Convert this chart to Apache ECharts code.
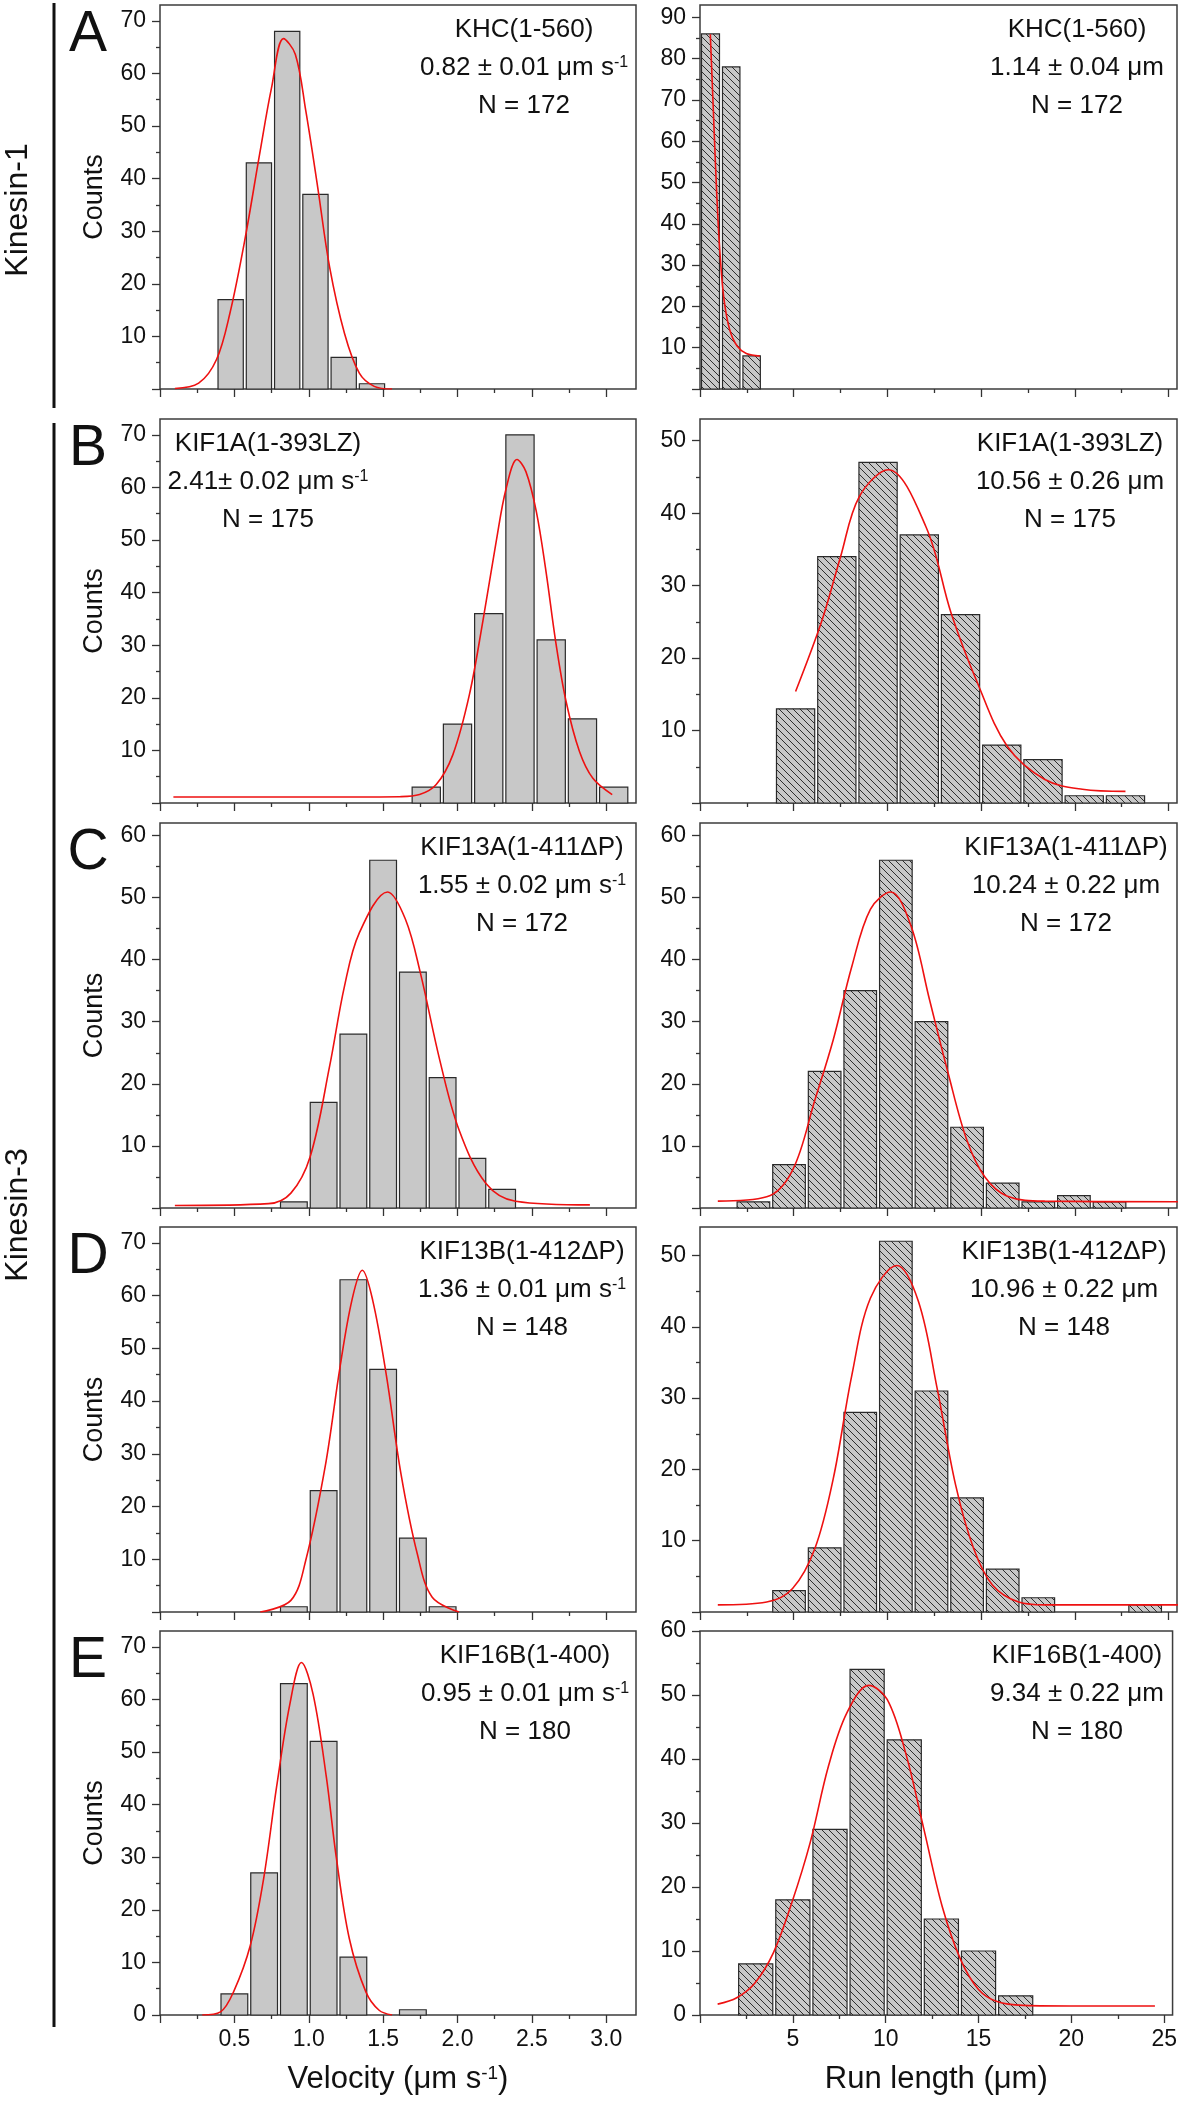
<!DOCTYPE html>
<html><head><meta charset="utf-8">
<script src="https://cdn.jsdelivr.net/npm/echarts@6/dist/echarts.min.js"></script>
<style>html,body{margin:0;padding:0;background:#fff}#c{width:1180px;height:2102px}</style>
</head><body><div id="c"></div>
<script>
// ================= DATA =================
// Velocity histograms: bin edges (µm/s) and counts, plus Gaussian-fit curve points
const velEdgesA = [0.38, 0.57, 0.76, 0.95, 1.14, 1.33, 1.52];
const velCountsA = [17, 43, 68, 37, 6, 1];
const velFitA = [[0.10,0.1],[0.26,1.1],[0.38,5.6],[0.47,14.4],[0.57,28.3],[0.67,44.7],[0.75,57.3],[0.83,66.6],[0.91,63.6],[0.98,52.9],[1.06,38.4],[1.14,23.2],[1.24,10.6],[1.34,3.0],[1.44,0.5],[1.56,0.0]];

const velEdgesB = [1.685, 1.895, 2.105, 2.315, 2.525, 2.735, 2.945, 3.155];
const velCountsB = [3, 15, 36, 70, 31, 16, 3];
const velFitB = [[0.09,1.15],[0.8,1.15],[1.3,1.15],[1.61,1.2],[1.745,1.6],[1.857,3.5],[1.969,9.2],[2.08,20.6],[2.17,34.5],[2.26,49.7],[2.327,59.8],[2.40,65.3],[2.46,63.0],[2.53,55.4],[2.595,44.0],[2.66,30.7],[2.73,19.3],[2.82,9.8],[2.91,4.7],[3.04,1.6]];

const velEdgesC = [0.8, 1.0, 1.2, 1.4, 1.6, 1.8, 2.0, 2.2, 2.4];
const velCountsC = [1, 17, 28, 56, 38, 21, 8, 3];
const velFitC = [[0.10,0.4],[0.73,0.7],[0.88,2.4],[1.01,8.3],[1.14,22.8],[1.24,35.7],[1.34,44.3],[1.53,50.9],[1.65,46.5],[1.75,37.9],[1.88,23.9],[2.01,12.6],[2.19,4.0],[2.39,1.1],[2.89,0.5]];

const velEdgesD = [0.8, 1.0, 1.2, 1.4, 1.6, 1.8, 2.0];
const velCountsD = [1, 23, 63, 46, 14, 1];
const velFitD = [[0.674,0],[0.88,2.2],[0.98,9.8],[1.11,27.5],[1.21,46.4],[1.29,59.1],[1.36,64.8],[1.43,59.1],[1.52,45.2],[1.62,26.2],[1.73,11.0],[1.83,2.8],[2.01,0]];

const velEdgesE = [0.4, 0.6, 0.8, 1.0, 1.2, 1.4, 1.6, 1.8];
const velCountsE = [4, 27, 63, 52, 11, 0, 1];
const velFitE = [[0.284,0],[0.407,0.6],[0.496,4.5],[0.607,13.2],[0.696,25.8],[0.784,43.4],[0.873,59.1],[0.951,67.0],[1.029,61.0],[1.118,45.3],[1.184,30.2],[1.273,14.5],[1.384,4.4],[1.473,0.9],[1.56,0]];

// Run-length histograms: bin edges (µm) and counts, plus fit curve points
const runEdgesA = [0, 1.12, 2.21, 3.3];
const runCountsA = [86, 78, 8];
const runFitA = [[0.55,85.9],[0.69,70],[0.83,53.9],[0.95,41.8],[1.09,31.3],[1.28,21.7],[1.58,14.4],[1.98,10.4],[2.47,8.6],[3.2,8.0]];

const runEdgesB = [4.0, 6.2, 8.4, 10.6, 12.8, 15.0, 17.2, 19.4, 21.6, 23.8];
const runCountsB = [13, 34, 47, 37, 26, 8, 6, 1, 1];
const runFitB = [[5.1,15.4],[6.52,25.3],[7.5,34.0],[8.5,42.3],[10.04,46.0],[12.06,38.1],[13.4,26.2],[14.8,16.6],[16.4,7.8],[18.4,3.25],[20.4,1.9],[22.7,1.6]];

const runEdgesC = [1.9, 3.8, 5.7, 7.6, 9.5, 11.4, 13.3, 15.2, 17.1, 19.0, 20.9, 22.8];
const runCountsC = [1, 7, 22, 35, 56, 30, 13, 4, 1, 2, 1];
const runFitC = [[0.95,1.1],[3.56,1.8],[4.94,6.1],[6.13,17.4],[7.11,27.1],[8.1,38.9],[9.09,48.1],[10.18,50.9],[11.26,45.4],[12.25,33.5],[13.24,21.7],[14.23,11.0],[15.2,5.0],[16.4,1.9],[18.4,1.1],[25.5,1.0]];

const runEdgesD = [1.9, 3.8, 5.7, 7.6, 9.5, 11.4, 13.3, 15.2, 17.1, 19.0, 20.9, 22.8, 24.7];
const runCountsD = [0, 3, 9, 28, 52, 31, 16, 6, 2, 0, 0, 1];
const runFitD = [[0.95,1.0],[3.56,1.4],[4.94,3.3],[6.13,8.9],[7.11,18.7],[8.1,33.2],[9.09,44.0],[10.5,48.6],[11.66,43.5],[12.65,31.4],[13.64,17.8],[14.6,8.9],[15.6,3.8],[17.0,1.4],[18.4,1.0],[25.5,1.0]];

const runEdgesE = [2, 4, 6, 8, 10, 12, 14, 16, 18];
const runCountsE = [8, 18, 29, 54, 43, 15, 10, 3];
const runFitE = [[0.95,1.7],[1.98,2.7],[2.96,5.0],[3.95,9.7],[4.94,17.5],[5.93,26.9],[6.92,38.9],[7.91,47.2],[9.09,51.5],[10.08,49.3],[11.07,41.0],[12.06,29.0],[13.04,17.0],[14.03,8.7],[15.0,4.0],[16.0,2.1],[17.4,1.5],[20.4,1.4],[24.5,1.4]];

// Axis ranges and tick values
const velRange = [0, 3.2];
const runRange = [0, 25.45];
const velMajorTicks = [0, 0.5, 1.0, 1.5, 2.0, 2.5, 3.0];
const velMinorTicks = [0.25, 0.75, 1.25, 1.75, 2.25, 2.75];
const velTickLabels = [0.5, 1.0, 1.5, 2.0, 2.5, 3.0];
const runMajorTicks = [0, 5, 10, 15, 20, 25];
const runMinorTicks = [2.5, 7.5, 12.5, 17.5, 22.5];
const runTickLabels = [5, 10, 15, 20, 25];
const velYMax = [73, 73, 62, 73, 73];
const runYMax = [93, 53, 62, 54, 60];

// Annotation texts
const velTexts = [
  ['KHC(1-560)', '0.82 ± 0.01 μm s', 'N = 172'],
  ['KIF1A(1-393LZ)', '2.41± 0.02 μm s', 'N = 175'],
  ['KIF13A(1-411ΔP)', '1.55 ± 0.02 μm s', 'N = 172'],
  ['KIF13B(1-412ΔP)', '1.36 ± 0.01 μm s', 'N = 148'],
  ['KIF16B(1-400)', '0.95 ± 0.01 μm s', 'N = 180']
];
const runTexts = [
  ['KHC(1-560)', '1.14 ± 0.04 μm', 'N = 172'],
  ['KIF1A(1-393LZ)', '10.56 ± 0.26 μm', 'N = 175'],
  ['KIF13A(1-411ΔP)', '10.24 ± 0.22 μm', 'N = 172'],
  ['KIF13B(1-412ΔP)', '10.96 ± 0.22 μm', 'N = 148'],
  ['KIF16B(1-400)', '9.34 ± 0.22 μm', 'N = 180']
];
const panelLetters = ['A', 'B', 'C', 'D', 'E'];

// ================= LAYOUT / STYLE =================
const F = "'Liberation Sans', Arial, Helvetica, sans-serif";
const rowTop = [5, 419, 823, 1227, 1631];
const rowH = [384, 384, 385, 385, 384];
const colLeft = [160, 700];
const colW = [476, 477];
const velTextX = [524, 268, 522, 522, 525];
const runTextX = [1077, 1070, 1066, 1064, 1077];
const textDY = [25, 63, 101];

function hatchPattern() {
  const c = document.createElement('canvas');
  c.width = 7; c.height = 7;
  const g = c.getContext('2d');
  g.fillStyle = '#c8c8c8'; g.fillRect(0, 0, 7, 7);
  g.strokeStyle = '#2e2e2e'; g.lineWidth = 1;
  for (const k of [-7, 0, 7]) { g.beginPath(); g.moveTo(k - 1, -1); g.lineTo(k + 8, 8); g.stroke(); }
  return { image: c, repeat: 'repeat' };
}
const HATCH = hatchPattern();

function range(a, b, s) { const r = []; for (let v = a; v <= b + 1e-9; v += s) r.push(v); return r; }

const grids = [], xAxes = [], yAxes = [], series = [], graphics = [];

function addPanel(row, col, edges, counts, fit, yMax) {
  const gi = grids.length;
  const isBottom = row === 4;
  const isVel = col === 0;
  grids.push({ left: colLeft[col], top: rowTop[row], width: colW[col], height: rowH[row],
    show: true, borderColor: '#3c3c3c', borderWidth: 1.5, backgroundColor: '#fff', containLabel: false });
  const tickLine = { color: '#333', width: 1.3 };
  const xr = isVel ? velRange : runRange;
  const xi = xAxes.length;
  xAxes.push({ gridIndex: gi, type: 'value', min: xr[0], max: xr[1], position: 'bottom',
    axisLine: { show: false }, splitLine: { show: false },
    axisTick: { show: true, length: 8, lineStyle: tickLine, customValues: isVel ? velMajorTicks : runMajorTicks },
    axisLabel: { show: isBottom, customValues: isVel ? velTickLabels : runTickLabels, margin: 13,
      fontSize: 23, fontFamily: F, color: '#111', formatter: v => isVel ? Number(v).toFixed(1) : String(v) },
    name: isBottom ? (isVel ? 'Velocity (μm s{s|-1})' : 'Run length (μm)') : '',
    nameLocation: 'middle', nameGap: 49,
    nameTextStyle: { fontSize: 31, fontFamily: F, color: '#111',
      rich: { s: { fontSize: 19, fontFamily: F, color: '#111', verticalAlign: 'top' } } }
  });
  xAxes.push({ gridIndex: gi, type: 'value', min: xr[0], max: xr[1], position: 'bottom',
    axisLine: { show: false }, splitLine: { show: false }, axisLabel: { show: false },
    axisTick: { show: true, length: 4, lineStyle: tickLine, customValues: isVel ? velMinorTicks : runMinorTicks } });
  const topMajor = Math.floor(yMax / 10) * 10;
  const majors = range(0, topMajor, 10);
  const minors = range(5, yMax - 1, 10);
  const yi = yAxes.length;
  yAxes.push({ gridIndex: gi, type: 'value', min: 0, max: yMax, position: 'left',
    axisLine: { show: false }, splitLine: { show: false },
    axisTick: { show: true, length: 8, lineStyle: tickLine, customValues: majors },
    axisLabel: { show: true, customValues: isBottom ? majors : majors.slice(1), margin: 14,
      fontSize: 23, fontFamily: F, color: '#111' },
    name: isVel ? 'Counts' : '', nameLocation: 'middle', nameGap: 52,
    nameTextStyle: { fontSize: 27, fontFamily: F, color: '#111' } });
  yAxes.push({ gridIndex: gi, type: 'value', min: 0, max: yMax, position: 'left',
    axisLine: { show: false }, splitLine: { show: false }, axisLabel: { show: false },
    axisTick: { show: true, length: 4, lineStyle: tickLine, customValues: minors } });

  const barData = [];
  counts.forEach((c, k) => { if (c > 0) barData.push([edges[k], edges[k + 1], c]); });
  const fill = isVel ? '#c8c8c8' : HATCH;
  series.push({ type: 'custom', xAxisIndex: xi, yAxisIndex: yi, data: barData, silent: true, z: 2,
    renderItem: (params, api) => {
      const p0 = api.coord([api.value(0), api.value(2)]);
      const p1 = api.coord([api.value(1), 0]);
      return { type: 'rect', shape: { x: p0[0] + 1.5, y: p0[1], width: p1[0] - p0[0] - 3, height: p1[1] - p0[1] },
        style: { fill: fill, stroke: '#2a2a2a', lineWidth: 1.2 } };
    } });
  series.push({ type: 'line', xAxisIndex: xi, yAxisIndex: yi, data: fit, showSymbol: false, smooth: 0.35,
    lineStyle: { color: '#ee1111', width: 1.6 }, z: 3, silent: true });

  // annotation text
  const lines = isVel ? velTexts[row] : runTexts[row];
  const tx = isVel ? velTextX[row] : runTextX[row];
  lines.forEach((t, li) => {
    const y = rowTop[row] + textDY[li];
    const txt = (isVel && li === 1) ? '{m|' + t + '}{s|-1}' : '{m|' + t + '}';
    graphics.push({ type: 'text', x: tx, y: y, z: 10, silent: true,
      style: { text: txt, align: 'center', verticalAlign: 'middle',
        rich: { m: { fontSize: 26, fontFamily: F, fill: '#111' },
                s: { fontSize: 16, fontFamily: F, fill: '#111', verticalAlign: 'top' } } } });
  });
  if (isVel) {
    graphics.push({ type: 'text', x: 88, y: rowTop[row] + 30, silent: true,
      style: { text: panelLetters[row], fontSize: 57, fontFamily: F, fill: '#111', align: 'center', verticalAlign: 'middle' } });
  }
}

const velEdges = [velEdgesA, velEdgesB, velEdgesC, velEdgesD, velEdgesE];
const velCounts = [velCountsA, velCountsB, velCountsC, velCountsD, velCountsE];
const velFits = [velFitA, velFitB, velFitC, velFitD, velFitE];
const runEdges = [runEdgesA, runEdgesB, runEdgesC, runEdgesD, runEdgesE];
const runCounts = [runCountsA, runCountsB, runCountsC, runCountsD, runCountsE];
const runFits = [runFitA, runFitB, runFitC, runFitD, runFitE];
for (let r = 0; r < 5; r++) {
  addPanel(r, 0, velEdges[r], velCounts[r], velFits[r], velYMax[r]);
  addPanel(r, 1, runEdges[r], runCounts[r], runFits[r], runYMax[r]);
}

// group labels and divider lines
graphics.push({ type: 'line', shape: { x1: 54, y1: 3, x2: 54, y2: 408 }, style: { stroke: '#111', lineWidth: 3 } });
graphics.push({ type: 'line', shape: { x1: 54, y1: 423, x2: 54, y2: 2027 }, style: { stroke: '#111', lineWidth: 3 } });
graphics.push({ type: 'text', x: 18, y: 210, rotation: Math.PI / 2,
  style: { text: 'Kinesin-1', fontSize: 32, fontFamily: F, fill: '#111', align: 'center', verticalAlign: 'middle' } });
graphics.push({ type: 'text', x: 18, y: 1215, rotation: Math.PI / 2,
  style: { text: 'Kinesin-3', fontSize: 32, fontFamily: F, fill: '#111', align: 'center', verticalAlign: 'middle' } });

const chart = echarts.init(document.getElementById('c'), null, { renderer: 'canvas' });
chart.setOption({ animation: false, backgroundColor: '#fff', grid: grids, xAxis: xAxes, yAxis: yAxes, series: series, graphic: graphics });
</script></body></html>
